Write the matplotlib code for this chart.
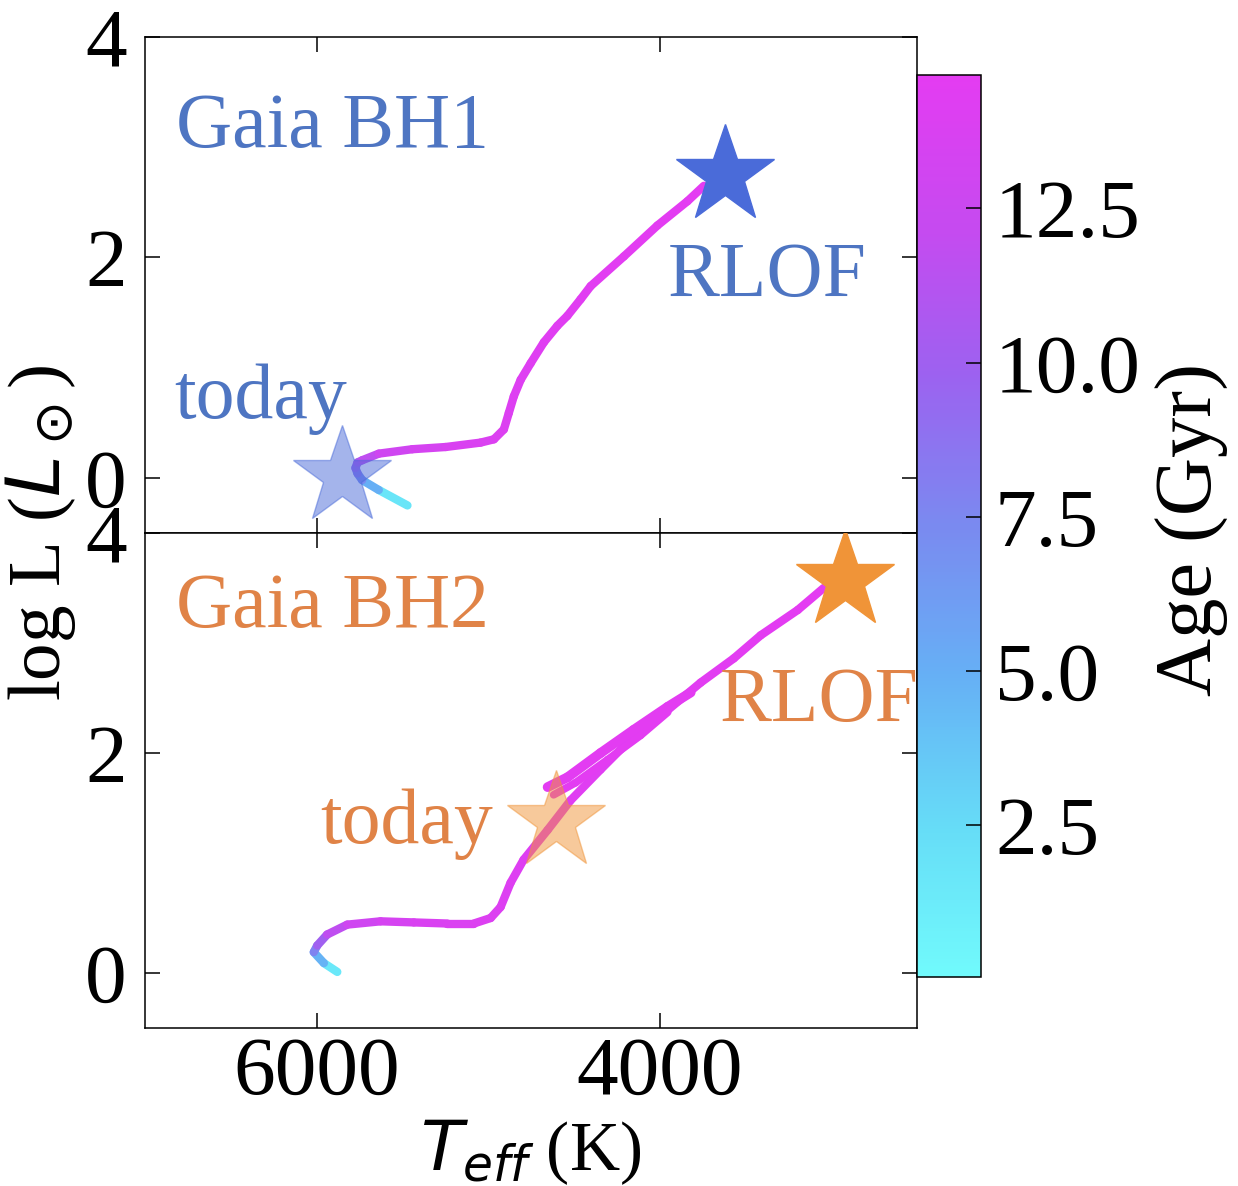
import numpy as np
import matplotlib
matplotlib.use('Agg')
import matplotlib.pyplot as plt
from matplotlib.collections import LineCollection
from matplotlib.colors import LinearSegmentedColormap, Normalize
from matplotlib.cm import ScalarMappable

plt.rcParams['font.family'] = ['Liberation Serif', 'DejaVu Serif']
plt.rcParams['mathtext.fontset'] = 'dejavusans'

# Gaia BH1 track (Teff in K, log L, age in Gyr)
bh1_teff = [5470, 5637, 5734, 5761, 5773, 5761, 5734, 5637, 5442, 5248,
            5044, 4966, 4908, 4879, 4850, 4810, 4752, 4675, 4596, 4538,
            4461, 4402, 4208, 4013, 3838, 3742]
bh1_logl = [-0.25, -0.11, -0.02, 0.04, 0.09, 0.14, 0.16, 0.22, 0.26, 0.28,
            0.32, 0.35, 0.44, 0.59, 0.74, 0.89, 1.04, 1.23, 1.38, 1.47,
            1.62, 1.74, 2.01, 2.29, 2.51, 2.65]
bh1_age = [0.1, 3.5, 6.5, 8.0, 9.0, 10.2, 11.0, 12.5, 13.3, 13.6,
           13.8, 13.9, 14.0, 14.05, 14.1, 14.15, 14.2, 14.25, 14.3, 14.35,
           14.4, 14.45, 14.5, 14.55, 14.6, 14.65]

# Gaia BH2 track
bh2_teff = [5879, 5957, 6016, 5996, 5938, 5821, 5627, 5433, 5238, 5083,
            4985, 4927, 4869, 4793, 4653, 4519, 4344, 4152, 3953, 3761,
            3568, 3411, 3195, 3044]
bh2_logl = [0.01, 0.09, 0.19, 0.25, 0.35, 0.44, 0.47, 0.46, 0.45, 0.45,
            0.50, 0.60, 0.82, 1.03, 1.30, 1.57, 1.85, 2.15, 2.39, 2.64,
            2.86, 3.07, 3.30, 3.50]
bh2_age = [0.1, 3.0, 6.5, 9.0, 11.0, 12.5, 13.3, 13.6, 13.8, 13.9,
           14.0, 14.05, 14.1, 14.15, 14.2, 14.25, 14.3, 14.35, 14.4, 14.45,
           14.5, 14.55, 14.6, 14.65]

# loops of the BH2 track after the first ascent
bh2_loop1_teff = [4653, 4536, 4344, 4152, 3953, 3819]
bh2_loop1_logl = [1.69, 1.78, 2.00, 2.21, 2.42, 2.55]
bh2_loop2_teff = [4618, 4490, 4303, 4111, 3953]
bh2_loop2_logl = [1.62, 1.73, 1.94, 2.16, 2.37]
loop_age = 14.6

# markers: (Teff, logL)
bh1_today = (5851, 0.02)
bh1_rlof = (3621, 2.745)
bh2_today = (4603, 1.38)
bh2_rlof = (2921, 3.57)

age_min, age_max = 0.04, 14.66
cb_ticks = [2.5, 5.0, 7.5, 10.0, 12.5]

blue_txt = '#4e75c2'
orange_txt = '#e08347'
blue_star = '#4a6bd9'
orange_star = '#f09438'

cmap = LinearSegmentedColormap.from_list(
    'agecool', ['#71fafc', '#66dcf7', '#66b0f5', '#7a8af0', '#9c62f0', '#c64af0', '#e43cf2'])
norm = Normalize(age_min, age_max)


def draw_track(ax, teff, logl, age, lw=6):
    pts = np.column_stack([teff, logl]).reshape(-1, 1, 2)
    segs = np.concatenate([pts[:-1], pts[1:]], axis=1)
    a = np.asarray(age)
    lc = LineCollection(segs, cmap=cmap, norm=norm, linewidths=lw, capstyle='round', joinstyle='round', zorder=2)
    lc.set_array(0.5 * (a[:-1] + a[1:]))
    ax.add_collection(lc)


fig = plt.figure(figsize=(12.38, 11.86), dpi=100)
ax1 = fig.add_axes([0.1171, 0.5506, 0.6236, 0.4182])
ax2 = fig.add_axes([0.1171, 0.1332, 0.6236, 0.4174])
cax = fig.add_axes([0.7407, 0.1762, 0.0517, 0.7605])

draw_track(ax1, bh1_teff, bh1_logl, bh1_age)
draw_track(ax2, bh2_teff, bh2_logl, bh2_age)
draw_track(ax2, bh2_loop1_teff, bh2_loop1_logl, [loop_age] * len(bh2_loop1_teff), lw=7)
draw_track(ax2, bh2_loop2_teff, bh2_loop2_logl, [loop_age] * len(bh2_loop2_teff), lw=5.5)

ax1.plot(*bh1_rlof, marker='*', ms=74, color=blue_star, mec=blue_star, zorder=4)
ax1.plot(*bh1_today, marker='*', ms=74, color=blue_star, alpha=0.5, mec=blue_star, zorder=4)
ax2.plot(*bh2_rlof, marker='*', ms=74, color=orange_star, mec=orange_star, zorder=4)
ax2.plot(*bh2_today, marker='*', ms=74, color=orange_star, alpha=0.5, mec=orange_star, zorder=4)

ax1.text(6820, 3.0, 'Gaia BH1', color=blue_txt, fontsize=56, ha='left', va='baseline')
ax1.text(3953, 1.65, 'RLOF', color=blue_txt, fontsize=56, ha='left', va='baseline')
ax1.text(6828, 0.545, 'today', color=blue_txt, fontsize=56, ha='left', va='baseline')
ax2.text(6820, 3.15, 'Gaia BH2', color=orange_txt, fontsize=56, ha='left', va='baseline')
ax2.text(3650, 2.29, 'RLOF', color=orange_txt, fontsize=56, ha='left', va='baseline')
ax2.text(5977, 1.18, 'today', color=orange_txt, fontsize=56, ha='left', va='baseline')

for ax in (ax1, ax2):
    ax.set_xlim(7000, 2500)
    ax.set_ylim(-0.5, 4)
    ax.set_xticks([6000, 4000])
    ax.set_yticks([0, 2, 4])
    ax.tick_params(direction='in', top=True, right=True, length=10.8, width=1.1,
                   labelsize=60)
    ax.tick_params(axis='y', pad=13)
    ax.tick_params(axis='x', pad=6)
    for s in ax.spines.values():
        s.set_linewidth(1.1)
ax1.tick_params(labelbottom=False)

sm = ScalarMappable(norm=norm, cmap=cmap)
cbar = fig.colorbar(sm, cax=cax)
cbar.set_ticks(cb_ticks)
cbar.set_ticklabels(['%.1f' % t for t in cb_ticks])
cax.tick_params(direction='in', length=10.8, width=1.1, labelsize=60, pad=10)
cbar.outline.set_linewidth(1.1)

fig.text(1192 / 1238, 1 - 529 / 1186, 'Age (Gyr)', rotation=90, fontsize=58, ha='center', va='center')
fig.text(40 / 1238, 1 - 533 / 1186, r'log L ($L_\odot$)', rotation=90, fontsize=54, ha='center', va='center')
fig.text(531 / 1238, 16 / 1186, r'$T_{eff}$ (K)', fontsize=50, ha='center', va='baseline')

fig.savefig('out.png', dpi=100)
